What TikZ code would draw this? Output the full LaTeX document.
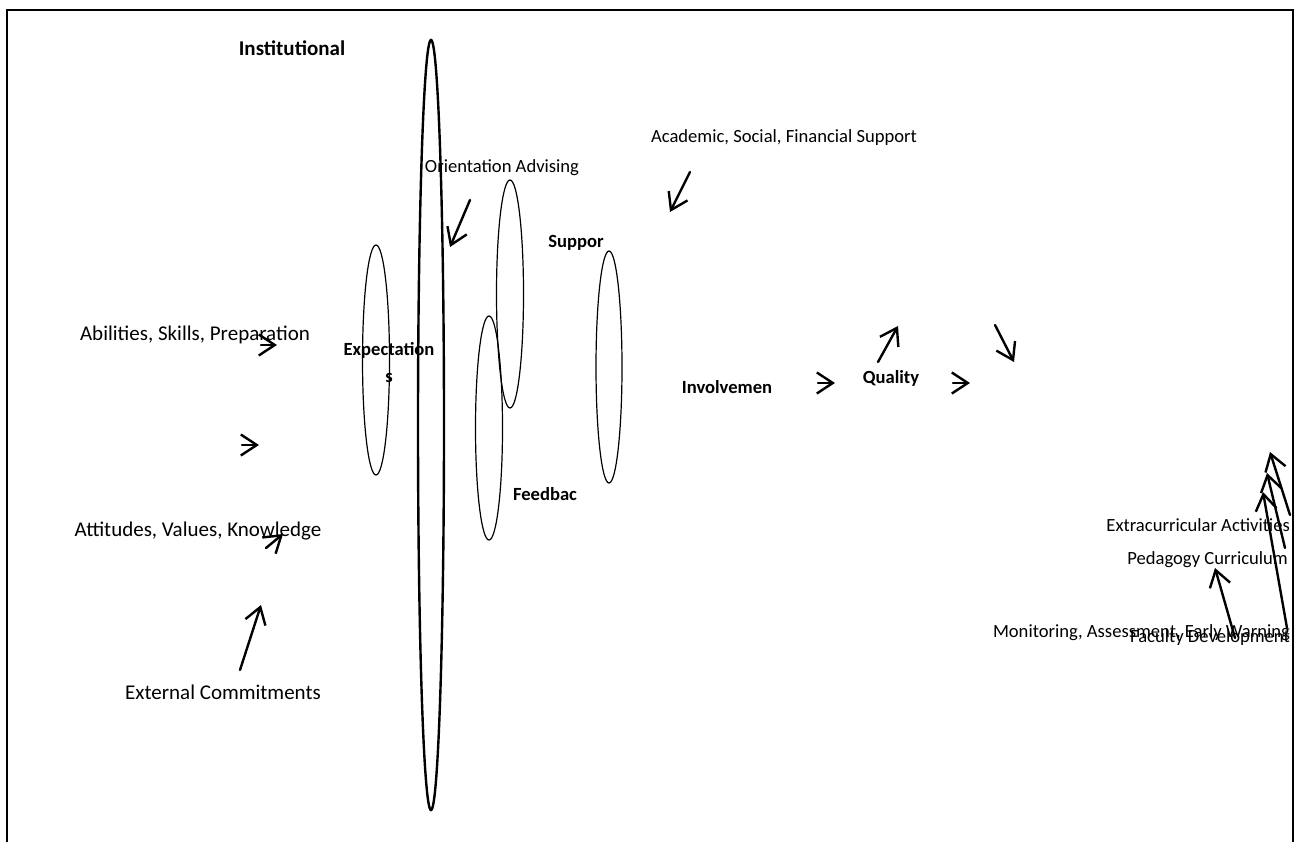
\documentclass[tikz,border=0pt]{standalone}
\usepackage{fontspec}
\setmainfont{Carlito}
\usepackage{tikz}
\usetikzlibrary{arrows.meta}

\tikzset{
  lbl/.style={inner sep=0pt, text height=14pt, text depth=5pt, font=\fontsize{21}{27}\selectfont},
  slbl/.style={lbl, font=\fontsize{18.6}{27}\selectfont},
  blbl/.style={lbl, font=\fontsize{18.6}{27}\selectfont\bfseries},
  arr/.style={-{Straight Barb[length=16pt,width=21pt]}, line width=2.4pt, line cap=round},
  oval/.style={line width=1.2pt},
}

\begin{document}
\begin{tikzpicture}[x=1pt,y=-1pt]
\useasboundingbox (0,0) rectangle (1301,842);

% frame
\draw [line width=2pt] (7,842) -- (7,10) -- (1293,10) -- (1293,842);

% ovals
\draw [line width=2.4pt] (431,425) ellipse [x radius=13, y radius=385];
\draw [oval] (376,360) ellipse [x radius=13.5, y radius=115];
\draw [oval] (510,294) ellipse [x radius=13.5, y radius=114];
\draw [oval] (489,428) ellipse [x radius=13.5, y radius=112];
\draw [oval] (609,367) ellipse [x radius=13, y radius=116];

% labels
\node [blbl, font=\fontsize{21}{27}\selectfont\bfseries] (inst) at (292,51) {Institutional};
\node [slbl] (orient) at (502,168) {Orientation Advising};
\node [slbl] (acad) at (784,138) {Academic, Social, Financial Support};
\node [blbl] (suppor) at (576,243) {Suppor};
\node [lbl] (abil) at (195,336) {Abilities, Skills, Preparation};
\node [blbl, align=center] (expect) at (389,378) {Expectation\\s};
\node [blbl] (involv) at (727,389) {Involvemen};
\node [blbl] (qual) at (891,379) {Quality};
\node [blbl] (feedb) at (545,496) {Feedbac};
\node [lbl] (attit) at (198,532) {Attitudes, Values, Knowledge};
\node [lbl] (extern) at (223,695) {External Commitments};
\node [slbl, anchor=east] (extra) at (1290,527) {Extracurricular Activities};
\node [slbl, anchor=east] (pedag) at (1288,560) {Pedagogy Curriculum};
\node [slbl, anchor=east] (monit) at (1290,633) {Monitoring, Assessment, Early Warning};
\node [slbl, anchor=east] (facul) at (1290,638) {Faculty Development};

% arrow ends
\coordinate (abilS) at (261,345);  \coordinate (abilE) at (277,345);
\coordinate (midS) at (242,445);   \coordinate (midE) at (259,445);
\coordinate (attS) at (266,548);   \coordinate (attE) at (283,534);
\coordinate (extS) at (240,670);   \coordinate (extE) at (261,605);
\coordinate (oriS) at (470,200);   \coordinate (oriE) at (450,247);
\coordinate (acaS) at (690,172);   \coordinate (acaE) at (670,212);
\coordinate (invS) at (818,383);   \coordinate (invE) at (835,383);
\coordinate (qupS) at (878,362);   \coordinate (qupE) at (898,326);
\coordinate (qrS) at (953,383);    \coordinate (qrE) at (970,383);
\coordinate (dnS) at (995,325);    \coordinate (dnE) at (1014,362);
\coordinate (r1S) at (1290,515);   \coordinate (r1E) at (1270,452);
\coordinate (r2S) at (1285,548);   \coordinate (r2E) at (1267,473);
\coordinate (r3S) at (1287,628);   \coordinate (r3E) at (1263,492);
\coordinate (pedS) at (1235,638);  \coordinate (pedE) at (1215,568);

% arrows
\foreach \a in {abil,mid,att,ext,ori,aca,inv,qup,qr,dn,r1,r2,r3,ped}
  \draw [arr] (\a S) -- (\a E);
\end{tikzpicture}
\end{document}
